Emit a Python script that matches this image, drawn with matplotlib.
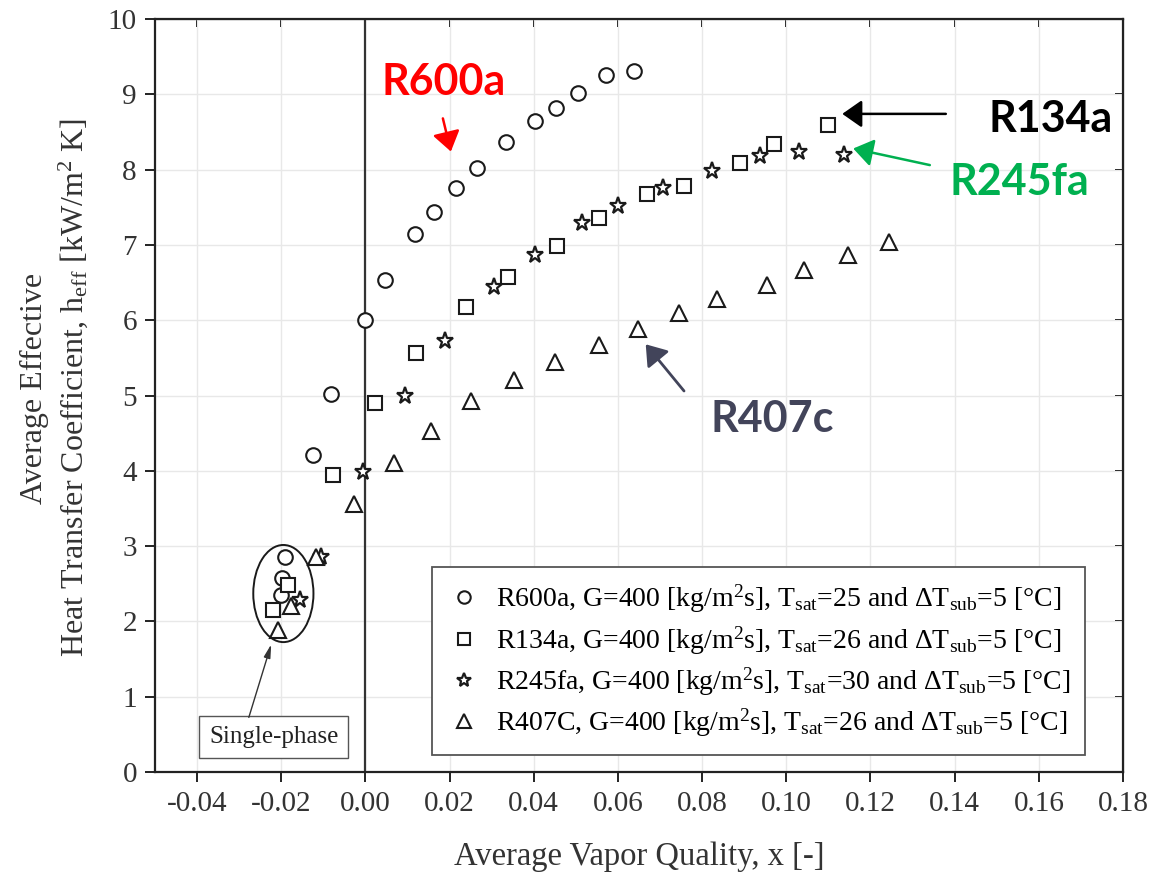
import matplotlib
matplotlib.use("Agg")
import matplotlib.pyplot as plt
from matplotlib.patches import Ellipse

plt.rcParams['font.family'] = ['Liberation Serif', 'DejaVu Serif']
plt.rcParams['mathtext.fontset'] = 'custom'
plt.rcParams['mathtext.rm'] = 'Liberation Serif'
plt.rcParams['mathtext.it'] = 'Liberation Serif:italic'
plt.rcParams['mathtext.bf'] = 'Liberation Serif:bold'

# ---- data: average vapor quality x [-] and h_eff [kW/m2 K] ----
r600a_x = [-0.0191, -0.0199, -0.0201, -0.0124, -0.0082, 0.0000, 0.0047, 0.0117,
           0.0162, 0.0216, 0.0265, 0.0334, 0.0402, 0.0452, 0.0505, 0.0571, 0.0638]
r600a_h = [2.86, 2.57, 2.35, 4.21, 5.02, 6.00, 6.54, 7.14,
           7.44, 7.75, 8.02, 8.37, 8.64, 8.82, 9.02, 9.25, 9.31]

r134a_x = [-0.0183, -0.0219, -0.0076, 0.0023, 0.0120, 0.0240, 0.0339, 0.0455,
           0.0555, 0.0670, 0.0757, 0.0889, 0.0970, 0.1099]
r134a_h = [2.49, 2.15, 3.95, 4.90, 5.56, 6.18, 6.57, 6.98,
           7.36, 7.67, 7.78, 8.09, 8.34, 8.59]

r245fa_x = [-0.0105, -0.0155, -0.0005, 0.0095, 0.0190, 0.0305, 0.0404, 0.0514,
            0.0601, 0.0706, 0.0823, 0.0937, 0.1031, 0.1137]
r245fa_h = [2.86, 2.28, 3.98, 4.99, 5.72, 6.44, 6.87, 7.29,
            7.51, 7.75, 7.98, 8.18, 8.24, 8.20]

r407c_x = [-0.0118, -0.0177, -0.0207, -0.0026, 0.0069, 0.0156, 0.0252, 0.0352,
           0.0450, 0.0555, 0.0648, 0.0744, 0.0836, 0.0955, 0.1041, 0.1146, 0.1245]
r407c_h = [2.86, 2.21, 1.88, 3.56, 4.10, 4.53, 4.93, 5.20,
           5.44, 5.67, 5.88, 6.10, 6.28, 6.47, 6.67, 6.87, 7.04]

legend_labels = [
    r'R600a, G=400 [kg/m$^2$s], T$_{\rm sat}$=25 and $\Delta$T$_{\rm sub}$=5 [°C]',
    r'R134a, G=400 [kg/m$^2$s], T$_{\rm sat}$=26 and $\Delta$T$_{\rm sub}$=5 [°C]',
    r'R245fa, G=400 [kg/m$^2$s], T$_{\rm sat}$=30 and $\Delta$T$_{\rm sub}$=5 [°C]',
    r'R407C, G=400 [kg/m$^2$s], T$_{\rm sat}$=26 and $\Delta$T$_{\rm sub}$=5 [°C]',
]

x_ticks = [-0.04, -0.02, 0.00, 0.02, 0.04, 0.06, 0.08, 0.10, 0.12, 0.14, 0.16, 0.18]
y_ticks = [0, 1, 2, 3, 4, 5, 6, 7, 8, 9, 10]

W, H = 1150, 874
fig = plt.figure(figsize=(W / 100, H / 100), dpi=100)
ax = fig.add_axes([155 / W, 1 - 772 / H, (1123 - 155) / W, (772 - 19) / H])

ax.set_xlim(-0.05, 0.18)
ax.set_ylim(0, 10)
ax.set_xticks(x_ticks)
ax.set_xticklabels([f'{v:.2f}' for v in x_ticks])
ax.set_yticks(y_ticks)
ax.grid(True, color='#e8e8e8', lw=1.0)
ax.set_axisbelow(True)

for s in ax.spines.values():
    s.set_linewidth(1.6)
    s.set_color('#222222')
ax.tick_params(axis='both', direction='out', length=7, width=1.4,
               labelsize=21, colors='#222222', labelcolor='#333333')
ax.tick_params(axis='x', pad=7)
ax.tick_params(axis='y', pad=6)

# mirrored inward ticks on top and right
top = ax.secondary_xaxis('top')
top.set_xticks(x_ticks)
top.tick_params(direction='in', length=6, width=1.4, labeltop=False)
right = ax.secondary_yaxis('right')
right.set_yticks(y_ticks)
right.tick_params(direction='in', length=6, width=1.4, labelright=False)

ax.axvline(0.0, color='#333333', lw=1.6, zorder=1.5)

mk = dict(ls='none', mfc='white', mec='#1a1a1a', zorder=3)
ax.plot(r600a_x, r600a_h, marker='o', ms=10.5, mew=1.5, label=legend_labels[0], **mk)
ax.plot(r134a_x, r134a_h, marker='s', ms=9.5, mew=1.5, label=legend_labels[1], **mk)
ax.plot(r245fa_x, r245fa_h, marker='*', ms=12.5, mew=1.6, label=legend_labels[2], **mk)
ax.plot(r407c_x, r407c_h, marker='^', ms=12, mew=1.5, label=legend_labels[3], **mk)

leg = ax.legend(loc='lower right', bbox_to_anchor=(0.961, 0.023), fontsize=20,
                frameon=True, fancybox=False, edgecolor='#555555', framealpha=1,
                handletextpad=0.55, borderpad=0.55, labelspacing=0.32,
                handlelength=1.2, borderaxespad=0, markerscale=0.85)
leg.get_frame().set_linewidth(1.3)

# single-phase group
ax.add_patch(Ellipse((-0.0195, 2.37), 0.0143, 1.29, fill=False,
                     ec='#1a1a1a', lw=1.4, zorder=2))
ax.text(-0.0218, 0.46, 'Single-phase', fontsize=18, ha='center', va='center',
        color='#222222',
        bbox=dict(boxstyle='square,pad=0.4', fc='white', ec='#555555', lw=1.0))
ax.annotate('', xy=(-0.0222, 1.73), xytext=(-0.0279, 0.69),
            arrowprops=dict(arrowstyle='-|>,head_length=0.8,head_width=0.2',
                            color='#333333', lw=1.0))

# refrigerant call-outs
callout_font = dict(family='Lato', fontweight='bold', fontsize=31)
arrow_style = '-|>,head_length=0.6,head_width=0.42'

ax.text(0.0185, 8.99, 'R600a', color='#ff0000', ha='center', va='baseline', **callout_font)
ax.annotate('', xy=(0.0203, 8.24), xytext=(0.0184, 8.68),
            arrowprops=dict(arrowstyle=arrow_style, mutation_scale=20,
                            color='#ff0000', lw=1.8, shrinkA=0, shrinkB=0))

ax.text(0.148, 8.50, 'R134a', color='#000000', ha='left', va='baseline', **callout_font)
ax.annotate('', xy=(0.1133, 8.74), xytext=(0.1379, 8.74),
            arrowprops=dict(arrowstyle=arrow_style, mutation_scale=20,
                            color='#000000', lw=1.8, shrinkA=0, shrinkB=0))

ax.text(0.1388, 7.66, 'R245fa', color='#00b050', ha='left', va='baseline', **callout_font)
ax.annotate('', xy=(0.1159, 8.28), xytext=(0.1341, 8.06),
            arrowprops=dict(arrowstyle=arrow_style, mutation_scale=20,
                            color='#00b050', lw=1.8, shrinkA=0, shrinkB=0))

ax.text(0.0821, 4.52, 'R407c', color='#42445a', ha='left', va='baseline', **callout_font)
ax.annotate('', xy=(0.0666, 5.68), xytext=(0.0757, 5.06),
            arrowprops=dict(arrowstyle=arrow_style, mutation_scale=20,
                            color='#42445a', lw=2.0, shrinkA=0, shrinkB=0))

# axis titles
fig.text(639 / W, 1 - 857 / H, 'Average Vapor Quality, x [-]', fontsize=23.5,
         ha='center', va='center', color='#333333')
fig.text(55 / W, 1 - 388 / H,
         'Average Effective\n'
         r'Heat Transfer Coefficient, h$_{\rm eff}$ [kW/m$^2$ K]',
         fontsize=23, rotation=90, ha='center', va='center',
         multialignment='center', linespacing=1.25, color='#333333')

fig.savefig('out.png', dpi=100)
